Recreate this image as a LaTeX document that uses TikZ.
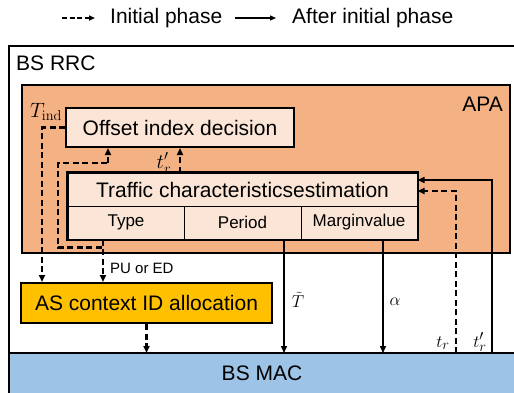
\documentclass[tikz,border=0pt]{standalone}
\usepackage[no-math]{fontspec}
\setmainfont{Liberation Sans}
\usetikzlibrary{arrows.meta}
\definecolor{apaC}{HTML}{F4B183}
\definecolor{inC}{HTML}{FBE5D6}
\definecolor{asC}{HTML}{FFC000}
\definecolor{macC}{HTML}{9DC3E6}
\newcommand{\fsz}[1]{\fontsize{#1}{#1}\selectfont}
\tikzset{
  box/.style={draw=black, line width=2pt, rectangle, inner sep=0pt, anchor=center},
  cell/.style={draw=black, line width=1pt, fill=inC, rectangle, inner sep=0pt, anchor=center, font=\fsz{17}},
  dsh/.style={line width=2.4pt, dash pattern=on 6pt off 3.5pt, -{Triangle[length=7pt,width=6pt]}},
  sol/.style={line width=1.5pt, -{Triangle[length=7pt,width=6pt]}},
  lbl/.style={inner sep=0pt}
}
\begin{document}
\begin{tikzpicture}[x=1pt,y=-1pt]
\useasboundingbox (0,0) rectangle (514,392);
% legend
\coordinate (l1a) at (62,18); \coordinate (l1b) at (95,18);
\coordinate (l2a) at (235,18); \coordinate (l2b) at (276,18);
\draw[dsh, line width=2pt, dash pattern=on 5pt off 2.5pt, -{Triangle[length=6pt,width=5pt]}] (l1a) -- (l1b);
\node[lbl, anchor=west, font=\fsz{21}] (lg1) at (110,18) {Initial phase};
\draw[line width=1.3pt, -{Triangle[length=6pt,width=5pt]}] (l2a) -- (l2b);
\node[lbl, anchor=west, font=\fsz{21}] (lg2) at (292,18) {After initial phase};
% outer box
\draw[line width=2pt] (530,46) -- (9,46) -- (9,355);
\node[lbl, anchor=west, font=\fsz{21}] (rrc) at (16,63) {BS RRC};
% APA
\node[box, fill=apaC, minimum width=488pt, minimum height=168pt] (apa) at (266,169) {};
\node[lbl, anchor=east, font=\fsz{21}] (apal) at (503,104) {APA};
\node[lbl, font=\fsz{21}] (tind) at (46,112) {$T_{\mathrm{ind}}$};
% offset
\node[box, fill=inC, minimum width=228pt, minimum height=39pt, font=\fsz{21}] (off) at (180,127.5) {Offset index decision};
% traffic
\node[box, fill=inC, minimum width=349pt, minimum height=66pt] (tr) at (242.5,206) {};
\node[cell, minimum width=349pt, minimum height=33pt, font=\fsz{21}] (trt) at (242.5,189.5) {Traffic characteristicsestimation};
\node[cell, minimum width=116pt, minimum height=33pt] (type) at (126,222.5) {Type};
\node[cell, minimum width=117pt, minimum height=33pt] (period) at (242.5,222.5) {Period};
\node[cell, minimum width=116pt, minimum height=33pt] (margin) at (359,222.5) {Marginvalue};
\draw[line width=2pt] (tr.north west) rectangle (tr.south east);
% AS
\node[box, fill=asC, minimum width=251pt, minimum height=40pt, font=\fsz{21}] (as) at (146.5,303) {AS context ID allocation};
% MAC
\fill[macC] (9,353) rectangle (530,400);
\node[lbl, font=\fsz{21}] (mac) at (262,373) {BS MAC};
\draw[line width=2pt] (9,400) -- (9,353) -- (530,353);
\coordinate (macT) at (0,353);
% labels
\node[lbl, anchor=west, font=\fsz{15}] (pu) at (110,268) {PU or ED};
\node[lbl, font=\fsz{20}] (trp) at (164,163) {$t'_r$};
\node[lbl, font=\fsz{18}] (ttil) at (298,300) {$\tilde{T}$};
\node[lbl, font=\fsz{18}] (alp) at (395,302) {$\alpha$};
\node[lbl, font=\fsz{19}] (tr1) at (443,343) {$t_r$};
\node[lbl, font=\fsz{19}] (tr2) at (480,342) {$t'_r$};
% connectors
\draw[dsh] (off.west) -| ([xshift=22pt]as.north west);
\draw[dsh] ([xshift=-23pt]type.south) -- ([xshift=-43.5pt]as.north);
\draw[dsh, -] ([xshift=-23pt]type.south) -- ++(0,8) -| (58,163) -- (108,163);
\draw[dsh] (108,163) -- ([xshift=-72pt]off.south);
\draw[dsh] ([xshift=-62.5pt]trt.north) -- ([xshift=0pt]off.south);
\draw[sol] ([xshift=41.5pt]period.south) -- ([xshift=41.5pt]period.south |- macT);
\draw[sol] ([xshift=24pt]margin.south) -- ([xshift=24pt]margin.south |- macT);
\draw[dsh] (as.south) -- (as.south |- macT);
\coordinate (dr) at (456,353);
\coordinate (sr) at (492,353);
\draw[dsh] (dr) |- ([yshift=-1.5pt]trt.east);
\draw[sol] (sr) |- ([yshift=9.5pt]trt.east);
\end{tikzpicture}
\end{document}
